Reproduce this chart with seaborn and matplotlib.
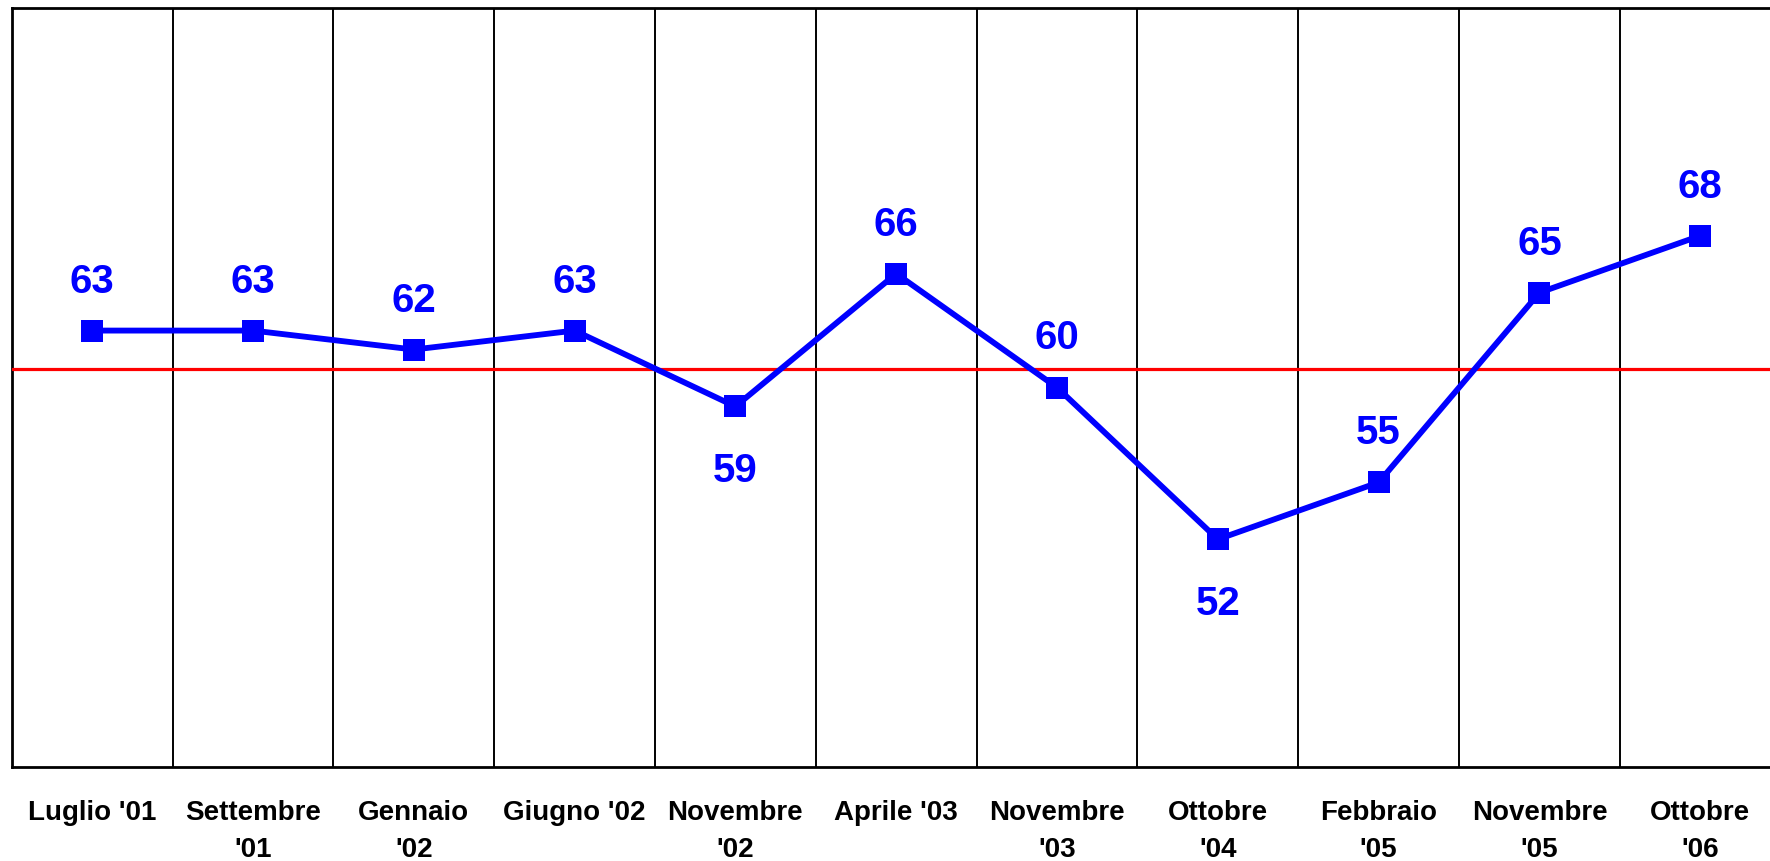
import numpy as np
import pandas as pd
import matplotlib
matplotlib.use("Agg")
import matplotlib.pyplot as plt
import seaborn as sns

categories = ["Luglio '01", "Settembre\n'01", "Gennaio\n'02", "Giugno '02",
              "Novembre\n'02", "Aprile '03", "Novembre\n'03", "Ottobre\n'04",
              "Febbraio\n'05", "Novembre\n'05", "Ottobre\n'06"]
values = [63, 63, 62, 63, 59, 66, 60, 52, 55, 65, 68]
label_below = [False, False, False, False, True, False, False, True, False, False, False]
reference_value = 61
y_min, y_max = 40, 80

sns.set_theme(style="white")
plt.rcParams['font.family'] = ['Liberation Sans', 'DejaVu Sans']

fig = plt.figure(figsize=(17.70, 8.62), dpi=100)
ax = fig.add_axes([11.7 / 1770, (862 - 768) / 862, 1769 / 1770, (768 - 9) / 862])

df = pd.DataFrame({"pos": np.arange(len(categories)), "val": values})
sns.lineplot(data=df, x="pos", y="val", ax=ax, color="#0000FF", linewidth=4.2,
             marker="s", markersize=16, markeredgewidth=0, sort=False, zorder=5)

ax.axhline(reference_value, color="#FF0000", linewidth=2.3, zorder=4)

for i, (v, below) in enumerate(zip(values, label_below)):
    off = -46 if below else 36
    ax.annotate(str(v), (i, v), xytext=(0, off), textcoords="offset points",
                ha="center", va="center", fontsize=29, fontweight="bold",
                color="#0000FF", zorder=6)

n = len(categories)
ax.set_xlim(-0.5, n - 0.5)
ax.set_ylim(y_min, y_max)
ax.set_xticks(np.arange(n))
ax.set_xticklabels(categories, fontsize=20, fontweight="bold", linespacing=1.55,
                   color="black")
ax.set_xticks(np.arange(0.5, n - 1, 1), minor=True)
ax.grid(False)
ax.grid(True, which="minor", axis="x", color="black", linewidth=1.4)
ax.tick_params(axis="x", which="both", length=0, pad=23)
ax.set_yticks([])
ax.set_xlabel("")
ax.set_ylabel("")
for s in ax.spines.values():
    s.set_color("black")
    s.set_linewidth(2)

fig.savefig("out.png", dpi=100)
